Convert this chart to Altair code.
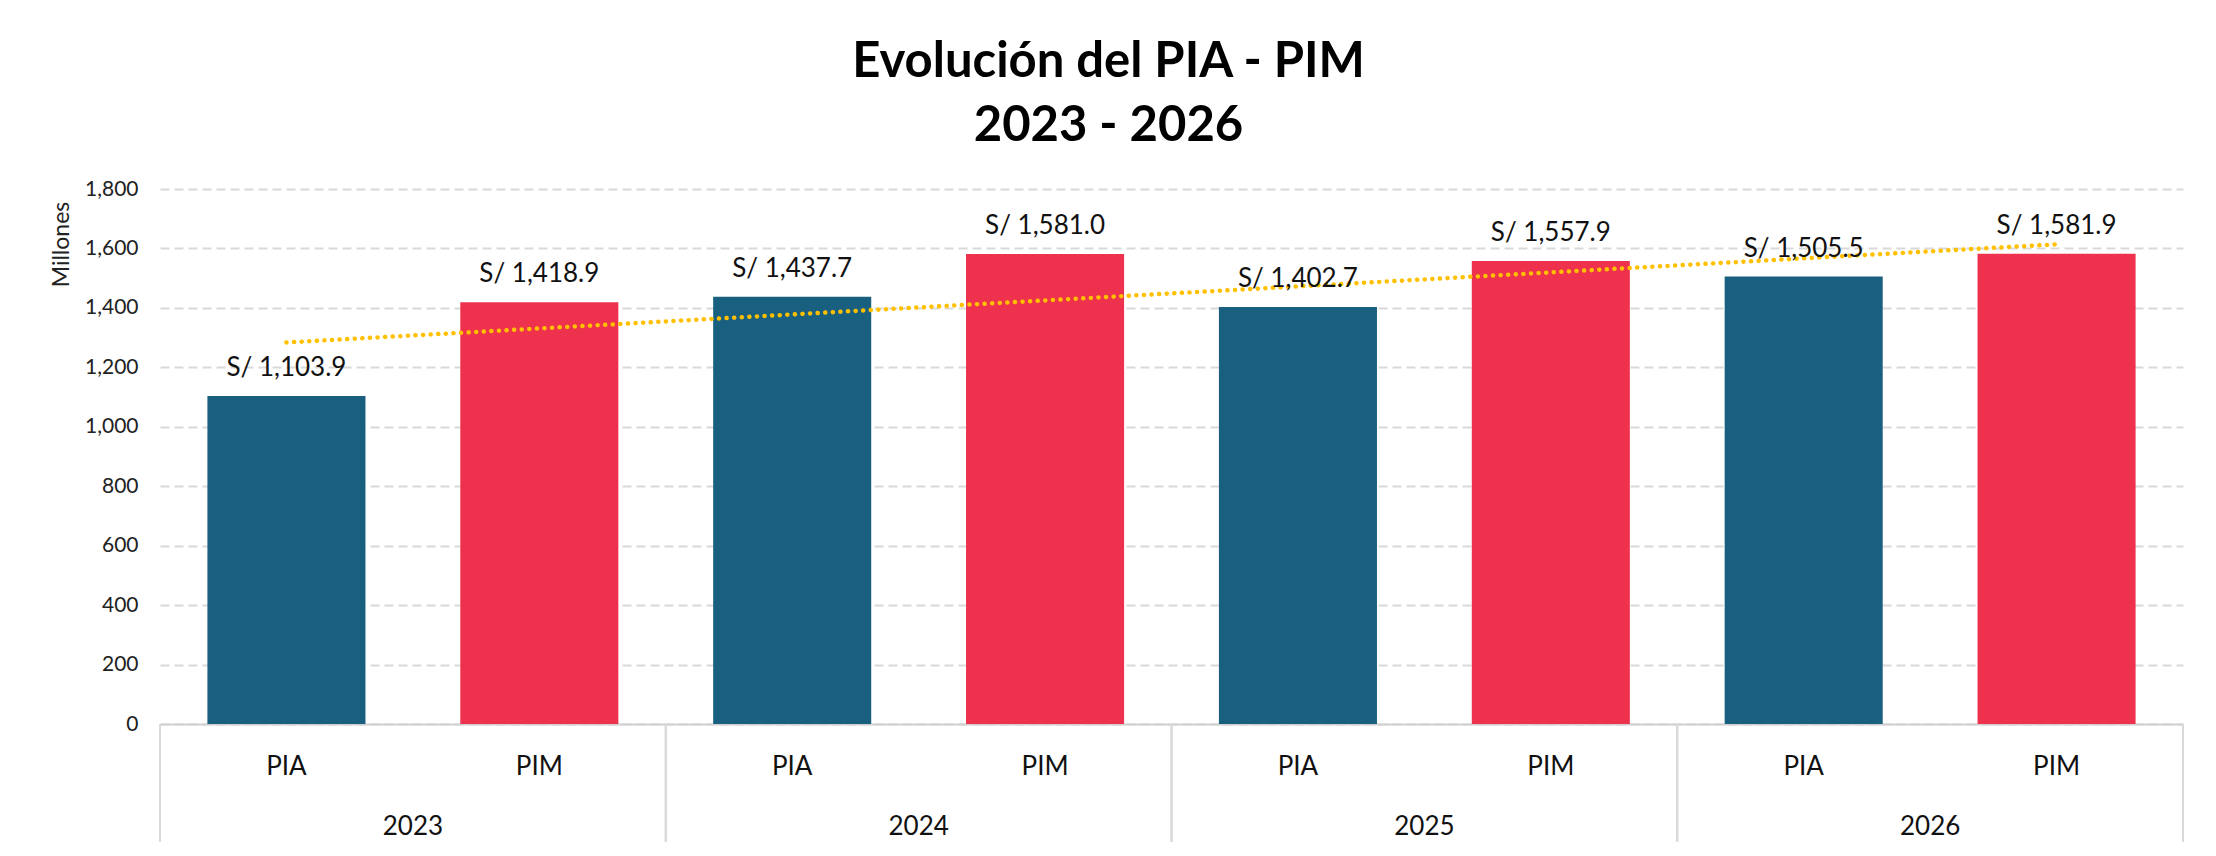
import altair as alt
import pandas as pd

years = ["2023", "2023", "2024", "2024", "2025", "2025", "2026", "2026"]
tipos = ["PIA", "PIM", "PIA", "PIM", "PIA", "PIM", "PIA", "PIM"]
valores = [1103.9, 1418.9, 1437.7, 1581.0, 1402.7, 1557.9, 1505.5, 1581.9]
y_ticks = [0, 200, 400, 600, 800, 1000, 1200, 1400, 1600, 1800]

df = pd.DataFrame({"anio": years, "tipo": tipos, "valor": valores})
df["idx"] = range(len(df))

W, H = 2023, 535
FONT = "Lato"

xs = alt.Scale(domain=[-0.5, 7.5], nice=False, zero=False)
ys = alt.Scale(domain=[0, 1800], nice=False)

base = alt.Chart(df)

bars = base.transform_calculate(
    x0="datum.idx - 0.3125", x1="datum.idx + 0.3125"
).mark_bar().encode(
    x=alt.X("x0:Q", scale=xs, axis=alt.Axis(domain=True, domainColor="#D0D0D0", domainWidth=2,
                                             labels=False, ticks=False, grid=False, title=None)),
    x2="x1:Q",
    y=alt.Y("valor:Q", scale=ys,
            axis=alt.Axis(values=y_ticks, format=",d", domain=False, ticks=False,
                          gridColor="#D9D9D9", gridWidth=2, gridDash=[9, 5],
                          labelFont=FONT, labelFontSize=21, labelColor="#222222", labelPadding=22,
                          title="Millones", titleFont=FONT, titleFontSize=23, titleFontWeight="normal",
                          titleColor="#222222", titleAngle=-90, titleX=-99, titleY=55,
                          titleAlign="center", titleBaseline="middle")),
    y2=alt.datum(0),
    color=alt.Color("tipo:N", scale=alt.Scale(domain=["PIA", "PIM"], range=["#185F80", "#EE314C"]),
                    legend=None),
)

labels = base.transform_calculate(
    lbl="'S/ ' + format(datum.valor, ',.1f')"
).mark_text(font=FONT, fontSize=26, color="#111111", baseline="bottom", dy=-15).encode(
    x=alt.X("idx:Q", scale=xs),
    y=alt.Y("valor:Q", scale=ys),
    text="lbl:N",
)

trend = base.transform_regression("idx", "valor", method="linear").mark_line(
    color="#FFC000", strokeWidth=4.5, strokeDash=[0.1, 7.5], strokeCap="round"
).encode(
    x=alt.X("idx:Q", scale=xs),
    y=alt.Y("valor:Q", scale=ys),
)

tipo_lbl = base.mark_text(font=FONT, fontSize=26, color="#111111", baseline="middle").encode(
    x=alt.X("idx:Q", scale=xs),
    y=alt.value(H + 43),
    text="tipo:N",
)

year_lbl = base.transform_aggregate(
    mid="mean(idx)", groupby=["anio"]
).mark_text(font=FONT, fontSize=26, color="#111111", baseline="middle").encode(
    x=alt.X("mid:Q", scale=xs),
    y=alt.value(H + 103),
    text="anio:N",
)

seps = base.transform_aggregate(
    lo="min(idx)", hi="max(idx)", groupby=["anio"]
).transform_calculate(
    a="datum.lo - 0.5", b="datum.hi + 0.5"
).transform_fold(["a", "b"], as_=["k", "pos"]).mark_rule(color="#D9D9D9", strokeWidth=2).encode(
    x=alt.X("pos:Q", scale=xs),
    y=alt.value(H),
    y2=alt.value(H + 124),
)

chart = alt.layer(bars, trend, labels, tipo_lbl, year_lbl, seps).properties(
    width=W,
    height=H,
    autosize=alt.AutoSizeParams(type="none"),
    padding={"left": 152, "top": 181, "right": 20, "bottom": 118},
    title=alt.TitleParams(
        text=["Evolución del PIA - PIM", "2023 - 2026"],
        font=FONT, fontSize=49, fontWeight="bold", color="#000000",
        anchor="middle", dx=-63, offset=27, lineHeight=64,
    ),
).configure(background="white").configure_view(stroke=None)

chart.save("out.html", embed_options={"renderer": "svg", "actions": False})
